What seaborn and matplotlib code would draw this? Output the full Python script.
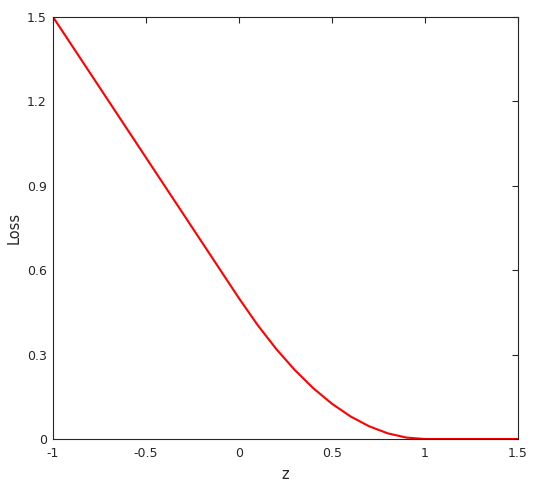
import numpy as np
import pandas as pd
import seaborn as sns
import matplotlib.pyplot as plt

# values
z = [-1.0, -0.9, -0.8, -0.7, -0.6, -0.5, -0.4, -0.3, -0.2, -0.1, 0.0,
     0.1, 0.2, 0.3, 0.4, 0.5, 0.6, 0.7, 0.8, 0.9, 1.0,
     1.1, 1.2, 1.3, 1.4, 1.5]
loss = [1.5, 1.4, 1.3, 1.2, 1.1, 1.0, 0.9, 0.8, 0.7, 0.6, 0.5,
        0.405, 0.32, 0.245, 0.18, 0.125, 0.08, 0.045, 0.02, 0.005, 0.0,
        0.0, 0.0, 0.0, 0.0, 0.0]
xticks = [-1, -0.5, 0, 0.5, 1, 1.5]
xticklabels = ["-1", "-0.5", "0", "0.5", "1", "1.5"]
yticks = [0, 0.3, 0.6, 0.9, 1.2, 1.5]
yticklabels = ["0", "0.3", "0.6", "0.9", "1.2", "1.5"]

df = pd.DataFrame({"z": z, "Loss": loss})

sns.set_style("white")
plt.rcParams['font.family'] = ['DejaVu Sans']

fig = plt.figure(figsize=(5.53, 4.88), dpi=100)
ax = fig.add_axes([53 / 553, 1 - 439 / 488, (518 - 53) / 553, (439 - 17) / 488])
sns.lineplot(data=df, x="z", y="Loss", color="red", linewidth=1.5, ax=ax)

ax.set_xlim(-1, 1.5)
ax.set_ylim(0, 1.5)
ax.set_xticks(xticks)
ax.set_xticklabels(xticklabels)
ax.set_yticks(yticks)
ax.set_yticklabels(yticklabels)
ax.tick_params(direction="in", length=4, width=0.8, top=True, right=True,
               labelsize=9, colors="#262626", pad=4.5)
ax.tick_params(axis="x", pad=6)
for s in ax.spines.values():
    s.set_color("#262626")
    s.set_linewidth(0.8)
ax.set_xlabel("z", fontsize=10.5, color="#262626", labelpad=5)
ax.set_ylabel("Loss", fontsize=10.5, color="#262626", labelpad=3.5)

fig.savefig("out.png", dpi=100)
